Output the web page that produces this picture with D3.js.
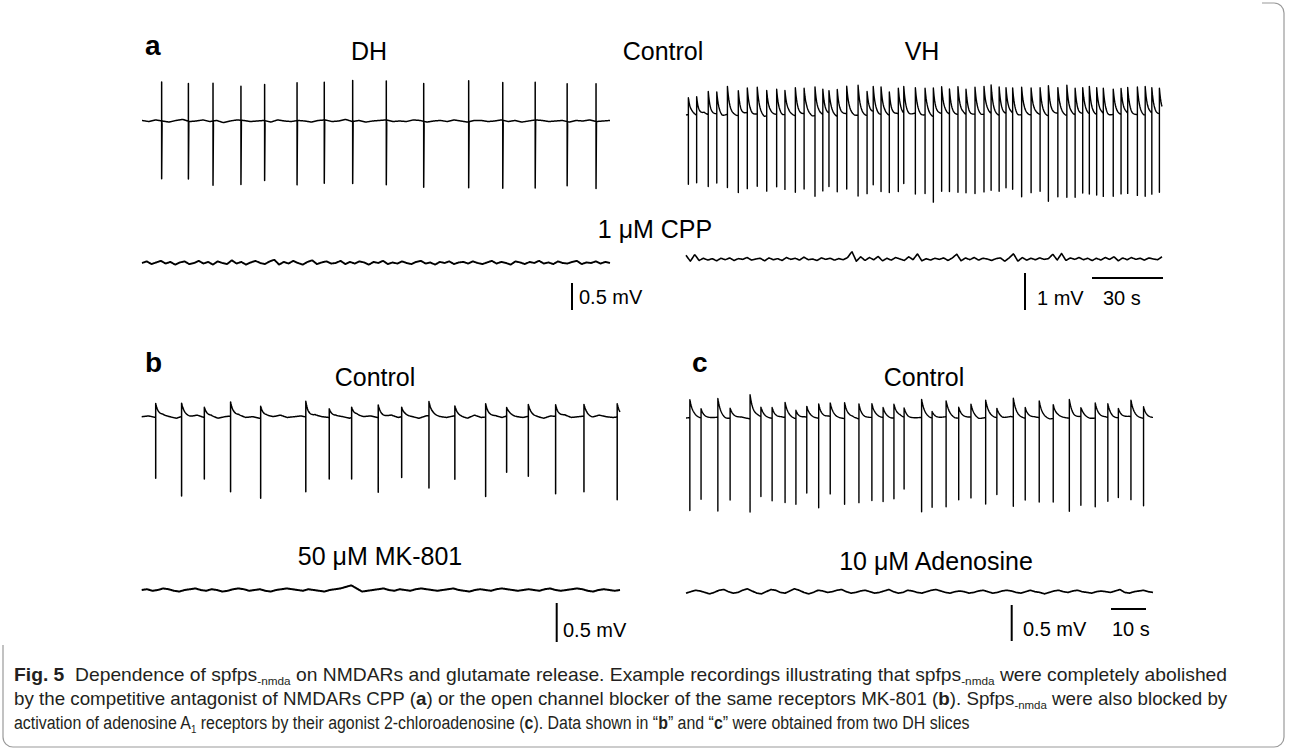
<!DOCTYPE html>
<html><head><meta charset="utf-8">
<script src="https://cdn.jsdelivr.net/npm/d3@7"></script>
<style>body{margin:0;background:#fff}</style>
</head><body>
<svg id="fig" width="1293" height="750"></svg>
<script>
// ---------------- DATA ----------------
// recording durations (s)
const durA_DH = 197.7, durA_VH = 201.1, durB = 136.7, durC = 133.4;

// Panel a, DH control: spike times (s), positive and negative peaks (mV)
const dhSpikeT   = [8.3,19.6,30.0,41.8,51.8,65.5,77.0,89.0,103.2,119.0,138.0,152.4,166.1,179.6,191.8];
const dhSpikeTop = [0.72,0.70,0.70,0.63,0.67,0.70,0.70,0.76,0.72,0.70,0.76,0.70,0.70,0.70,0.70];
const dhSpikeBot = [-1.07,-1.07,-1.19,-1.19,-1.11,-1.19,-1.17,-1.15,-1.20,-1.22,-1.22,-1.26,-1.26,-1.19,-1.24];

// Panel a, VH control
const vhSpikeT = [1.0,4.5,9.4,13.0,17.5,22.1,25.9,30.1,34.1,38.3,41.8,46.2,49.9,54.5,57.8,60.4,63.9,67.9,72.7,76.5,
  79.1,82.4,85.9,89.7,92.0,96.9,101.0,104.5,108.0,111.3,114.9,118.3,122.1,125.9,128.9,132.3,135.2,138.0,141.8,145.8,
  149.6,153.1,157.1,160.9,164.4,167.6,170.4,173.5,176.3,180.5,183.8,186.6,190.7,194.0,196.8,200.0];
const vhSpikeTop = [0.45,0.50,0.63,0.60,0.75,0.68,0.68,0.72,0.68,0.68,0.65,0.75,0.68,0.77,0.68,0.60,0.72,0.74,0.81,0.65,
  0.68,0.74,0.63,0.69,0.72,0.69,0.72,0.77,0.72,0.68,0.75,0.68,0.72,0.75,0.77,0.77,0.69,0.68,0.74,0.72,
  0.72,0.81,0.69,0.81,0.72,0.69,0.74,0.72,0.68,0.68,0.69,0.69,0.74,0.77,0.68,0.69];
const vhSpikeBot = [-1.89,-1.82,-1.94,-1.85,-1.98,-2.07,-2.03,-1.95,-2.03,-1.95,-2.01,-2.07,-2.03,-2.18,-2.05,-1.95,-2.03,-2.03,-2.18,-2.10,
  -1.94,-2.07,-2.07,-2.09,-1.85,-2.18,-2.12,-2.30,-2.09,-2.07,-2.09,-2.10,-2.14,-2.09,-2.05,-2.03,-1.98,-2.03,-2.21,-2.10,
  -2.07,-2.30,-2.25,-2.21,-2.21,-2.14,-2.14,-2.16,-2.21,-2.21,-2.14,-2.14,-2.18,-2.18,-2.16,-2.10];

// Panel b, control
const bSpikeT   = [4.0,11.4,17.9,25.4,34.0,46.9,53.6,60.0,67.6,74.3,82.1,89.5,98.3,104.3,110.5,118.3,126.4,135.9];
const bSpikeTop = [0.18,0.17,0.13,0.18,0.15,0.20,0.11,0.13,0.16,0.12,0.18,0.13,0.17,0.11,0.15,0.15,0.15,0.17];
const bSpikeBot = [-0.78,-1.02,-0.79,-0.97,-1.03,-0.96,-0.79,-0.79,-0.96,-0.78,-0.93,-0.81,-1.02,-0.72,-0.77,-0.99,-0.97,-1.06];

// Panel c, control
const cSpikeT   = [1.1,4.3,9.1,12.6,18.3,21.4,24.6,28.3,31.4,34.5,37.9,41.2,45.3,49.4,53.1,56.3,59.4,62.3,67.3,70.3,
  74.3,77.9,81.4,85.6,88.8,93.5,96.9,100.9,104.9,109.5,112.8,116.9,120.5,123.5,127.1,130.7];
const cSpikeTop = [0.25,0.13,0.26,0.14,0.33,0.13,0.15,0.21,0.12,0.15,0.20,0.19,0.22,0.21,0.19,0.14,0.19,0.13,0.25,0.09,
  0.22,0.15,0.18,0.24,0.13,0.26,0.15,0.23,0.19,0.26,0.12,0.21,0.19,0.13,0.23,0.16];
const cSpikeBot = [-1.29,-1.12,-1.30,-1.13,-1.30,-1.10,-1.14,-1.18,-1.18,-1.05,-1.24,-1.07,-1.19,-1.16,-1.15,-1.16,-1.12,-0.99,-1.31,-1.23,
  -1.25,-1.13,-1.12,-1.20,-1.06,-1.24,-1.13,-1.17,-1.16,-1.29,-1.23,-1.23,-1.16,-1.10,-1.15,-1.21];

// Baseline fluctuations (µV), evenly spaced over each recording
const dhCtrlNoise = [10,-10,20,0,-20,10,30,-10,0,20,-10,10,-30,0,20,10,-10,0,10,-20,20,0,-10,10,0,-20,10,20,-10,0,
  30,-10,10,-20,0,10,20,-10,0,-10,20,10,-20,0,10,-10,20,0,-20,10,10,-10,0,20,-10,10,-20,0,20,10,-10,0,10,-20,10,0,20,-10,0,10];
const dhCppNoise = [0,30,-20,10,40,-10,20,-30,10,30,-20,0,40,-10,20,-30,30,0,-20,50,-10,20,-30,10,40,0,-20,30,60,-30,
  20,-10,40,0,-30,20,50,-20,10,30,-10,0,40,-20,20,-10,30,10,-30,20,0,40,-20,10,-10,30,0,-20,20,40,
  -10,10,-30,20,0,30,-20,10,20,-10,30,0,-20,10,40,-10,20,0,-30,30,10,-20,20,0,40,-10,10,-20,30,0,-10,20,40,-20,10,0,30,-10,20,0];
const vhCtrlNoise = [0,40,-30,60,-20,20,-50,30,0,-40,50,-10,30,-60,20,10,-30,40,-20,0,50,-40,20,-10,30,-50,10,40,-20,0,
  -30,60,-10,20,-40,30,0,-20,50,-30,10,-60,20,40,-10,0,30,-40,20,-20,50,0,-30,10,40,-50,20,-10,30,0,
  -40,20,50,-20,10,-30,40,0,-10,30,-50,20,0,40,-20,10,-30,30,0,20];
const vhCppNoise = [100,-60,120,-40,20,-30,10,-50,20,-20,30,-40,10,-10,40,-30,0,20,-50,30,-20,10,-40,40,-10,20,-30,50,-20,0,
  -40,30,-10,20,-30,10,-20,40,200,-60,60,-40,40,-20,70,-50,20,-30,40,0,-40,60,-20,140,-50,10,-30,20,-10,30,
  -40,30,130,-50,30,-20,40,-30,20,0,-40,10,30,-60,30,140,-60,40,-30,20,-20,30,-10,10,130,-30,150,-40,30,-10,
  40,-20,20,-40,20,-30,40,-10,60,-50,30,-20,40,-10,20,-30,30,0,-20,60];
const bCtrlNoise = [0,10,-10,20,0,-20,10,0,20,-10,10,-20,0,10,20,-10,0,-20,10,0,20,-10,0,10,-10,20,0,-10,10,0,
  -20,20,0,10,-10,0,20,-10,10,0,-20,10,20,0,-10,10,0,-20,20,-10,0,10,-10,20,0,-10,10,0,-20,10,0,20,-10,0,10,-10,20,0,-10,0];
const mkNoise = [0,10,-10,0,20,10,-10,-20,0,10,20,0,-10,10,0,-20,-10,10,20,10,-10,0,10,-10,-20,0,10,20,10,0,
  -10,10,0,-10,-20,0,10,20,40,60,20,-20,-10,0,10,20,0,-10,10,0,-10,10,20,10,0,-10,0,10,20,0,
  -10,-20,0,10,0,-10,10,20,10,0,-10,0,10,0,-10,10,20,0,-10,0,10,20,10,-10,-20,0,10,0,-10,0];
const cCtrlNoise = [0,10,-10,0,10,-20,0,10,-10,20,0,-10,10,0,-20,10,0,-10,20,0,-10,10,-20,0,10,0,-10,20,-10,0,
  10,-10,0,20,-10,0,10,-20,10,0,-10,20,0,-10,10,0,-20,10,0,-10,20,-10,0,10,-10,0,20,0,-10,0];
const adenoNoise = [-20,0,20,10,-10,-30,-10,20,30,0,-20,-10,20,40,10,-20,-30,0,30,20,-10,-20,10,40,20,-10,-30,-10,20,10,
  -10,0,20,30,0,-20,-10,10,20,0,-20,-10,10,30,0,-20,-10,20,10,-10,-20,0,20,30,10,-10,-20,0,10,0,
  -20,-10,10,20,0,-20,-10,10,20,10,-10,-20,0,20,0,-10,-30,-10,10,20,0,-10,10,20,0,-10,-20,0,10,0,-10,10,30,-10,-20,0,10,20,0,-10];

// scale bars and labels
const scaleBars = [
  {mv:0.5, label:"0.5 mV"}, {mv:1, label:"1 mV", sec:30, secLabel:"30 s"},
  {mv:0.5, label:"0.5 mV"}, {mv:0.5, label:"0.5 mV", sec:10, secLabel:"10 s"}
];

// ---------------- DRAW ----------------
const svg = d3.select("#fig");
const FONT = "Liberation Sans, Arial, Helvetica, sans-serif";

function buildTrace(dur, noise, sp, kind, tau) {
  const n = noise.length;
  const base = t => {
    const f = Math.max(0, Math.min(1, t / dur)) * (n - 1);
    const i = Math.min(n - 2, Math.floor(f)), r = f - i;
    return (noise[i] * (1 - r) + noise[i + 1] * r) / 1000;
  };
  const ev = sp ? sp.t.map((t, i) => ({t, top: sp.top[i], bot: sp.bot[i]})) : [];
  const decay = t => {
    if (kind !== "decay") return 0;
    let s = 0;
    for (const e of ev) if (t > e.t) s += e.top * Math.exp(-(t - e.t) / tau);
    return s;
  };
  const pts = [];
  const step = dur / 900;
  let k = 0;
  for (let t = 0; t <= dur + 1e-9; t += step) {
    while (k < ev.length && ev[k].t <= t) {
      const e = ev[k], b = base(e.t);
      if (kind === "decay") {
        pts.push([e.t, b + decay(e.t - 1e-6)]);
        pts.push([e.t, b + e.bot]);
        pts.push([e.t + 1e-3, b + e.top + decay(e.t - 1e-6)]);
      } else {
        pts.push([e.t, b]);
        pts.push([e.t, b + e.top]);
        pts.push([e.t + 1e-3, b + e.bot]);
        pts.push([e.t + step * 0.8, b - 0.06]);
      }
      k++;
    }
    pts.push([t, base(t) + decay(t)]);
  }
  return pts;
}

function drawTrace(cfg) {
  const x = d3.scaleLinear().domain([0, cfg.dur]).range(cfg.xr);
  const y = d3.scaleLinear().domain([0, 1]).range([cfg.y0, cfg.y0 - cfg.ppmv]);
  const pts = buildTrace(cfg.dur, cfg.noise, cfg.sp, cfg.kind, cfg.tau);
  const line = d3.line().x(d => x(d[0])).y(d => y(d[1]));
  svg.append("path").attr("d", line(pts)).attr("fill", "none")
    .attr("stroke", "#000").attr("stroke-width", cfg.sw || 1.5).attr("stroke-linejoin", "round");
  return {x, y};
}

const A_DH = {dur: durA_DH, xr: [142, 610], ppmv: 54};
const A_VH = {dur: durA_VH, xr: [686, 1162], ppmv: 37};
const B_ = {dur: durB, xr: [141.7, 620], ppmv: 78};
const C_ = {dur: durC, xr: [686, 1153], ppmv: 72};

const sDH = drawTrace({...A_DH, y0: 121, noise: dhCtrlNoise, sp: {t: dhSpikeT, top: dhSpikeTop, bot: dhSpikeBot}, kind: "biphasic", sw: 1.5});
drawTrace({...A_DH, y0: 263, noise: dhCppNoise, sp: null, kind: "none", sw: 1.9});
const sVH = drawTrace({...A_VH, y0: 115, noise: vhCtrlNoise, sp: {t: vhSpikeT, top: vhSpikeTop, bot: vhSpikeBot}, kind: "decay", tau: 0.9, sw: 1.4});
drawTrace({...A_VH, y0: 259, noise: vhCppNoise, sp: null, kind: "none", sw: 1.6});
const sB = drawTrace({...B_, y0: 416.7, noise: bCtrlNoise, sp: {t: bSpikeT, top: bSpikeTop, bot: bSpikeBot}, kind: "decay", tau: 0.8, sw: 1.5});
drawTrace({...B_, y0: 590, noise: mkNoise, sp: null, kind: "none", sw: 2});
const sC = drawTrace({...C_, y0: 418, noise: cCtrlNoise, sp: {t: cSpikeT, top: cSpikeTop, bot: cSpikeBot}, kind: "decay", tau: 0.9, sw: 1.4});
drawTrace({...C_, y0: 591.7, noise: adenoNoise, sp: null, kind: "none", sw: 1.7});

// scale bars
function vBar(sc, mv, xPos, yBottom, label, tx, ty) {
  const h = sc.y(0) - sc.y(mv);
  svg.append("line").attr("x1", xPos).attr("x2", xPos).attr("y1", yBottom - h).attr("y2", yBottom)
    .attr("stroke", "#000").attr("stroke-width", 2);
  svg.append("text").attr("x", tx).attr("y", ty).text(label)
    .attr("font-family", FONT).attr("font-size", 20).attr("fill", "#000");
}
function hBar(sc, sec, x1, yPos, label, tx, ty) {
  const w = sc.x(sec) - sc.x(0);
  svg.append("line").attr("x1", x1).attr("x2", x1 + w).attr("y1", yPos).attr("y2", yPos)
    .attr("stroke", "#000").attr("stroke-width", 2);
  svg.append("text").attr("x", tx).attr("y", ty).text(label)
    .attr("font-family", FONT).attr("font-size", 20).attr("fill", "#000");
}
vBar(sDH, scaleBars[0].mv, 572, 310, scaleBars[0].label, 579, 304);
vBar(sVH, scaleBars[1].mv, 1025, 310, scaleBars[1].label, 1037, 305);
hBar(sVH, scaleBars[1].sec, 1092, 278, scaleBars[1].secLabel, 1103, 305);
vBar(sB, scaleBars[2].mv, 556.7, 642, scaleBars[2].label, 563, 637);
vBar(sC, scaleBars[3].mv, 1011.7, 641, scaleBars[3].label, 1023, 636);
hBar(sC, scaleBars[3].sec, 1111, 609, scaleBars[3].secLabel, 1112, 636);

// titles
const titles = [
  {t: "DH", x: 369, y: 60}, {t: "Control", x: 663, y: 60}, {t: "VH", x: 922, y: 60},
  {t: "1 \u03BCM CPP", x: 655, y: 238},
  {t: "Control", x: 375, y: 386}, {t: "Control", x: 924, y: 386},
  {t: "50 \u03BCM MK-801", x: 380, y: 565}, {t: "10 \u03BCM Adenosine", x: 936, y: 570}
];
titles.forEach(d => svg.append("text").attr("x", d.x).attr("y", d.y).attr("text-anchor", "middle")
  .attr("font-family", FONT).attr("font-size", 25).attr("fill", "#000").text(d.t));

const letters = [{t: "a", x: 145, y: 55}, {t: "b", x: 145, y: 372}, {t: "c", x: 692, y: 372}];
letters.forEach(d => svg.append("text").attr("x", d.x).attr("y", d.y)
  .attr("font-family", FONT).attr("font-size", 28).attr("font-weight", "bold").attr("fill", "#000").text(d.t));

// frame
svg.append("path")
  .attr("d", "M1262,3 H1274 A10,10 0 0 1 1284,13 V737 A10,10 0 0 1 1274,747 H13 A10,10 0 0 1 3,737 V645")
  .attr("fill", "none").attr("stroke", "#9a9a9a").attr("stroke-width", 1.2);

// caption
const capLines = [
  {y: 681, w: 1214, parts: [["Fig. 5", "b"], ["  Dependence of spfps"], ["-nmda", "s"], [" on NMDARs and glutamate release. Example recordings illustrating that spfps"], ["-nmda", "s"], [" were completely abolished"]]},
  {y: 705, w: 1214, parts: [["by the competitive antagonist of NMDARs CPP ("], ["a", "b"], [") or the open channel blocker of the same receptors MK-801 ("], ["b", "b"], ["). Spfps"], ["-nmda", "s"], [" were also blocked by"]]},
  {y: 729, w: 956, parts: [["activation of adenosine A"], ["1", "s"], [" receptors by their agonist 2-chloroadenosine ("], ["c", "b"], ["). Data shown in \u201C"], ["b", "b"], ["\u201D and \u201C"], ["c", "b"], ["\u201D were obtained from two DH slices"]]}
];
capLines.forEach(L => {
  const g = svg.append("g").attr("transform", `translate(14,${L.y})`);
  const txt = g.append("text").attr("x", 0).attr("y", 0)
    .attr("font-family", "Liberation Sans Narrow, Arial Narrow, Liberation Sans, sans-serif")
    .attr("font-size", 18).attr("fill", "#231f20").style("white-space", "pre");
  let shifted = false;
  L.parts.forEach(p => {
    const ts = txt.append("tspan").text(p[0]);
    if (p[1] === "b") ts.attr("font-weight", "bold");
    if (p[1] === "s") { ts.attr("font-size", 11).attr("dy", 4); shifted = true; }
    else if (shifted) { ts.attr("dy", -4); shifted = false; }
  });
  const bw = txt.node().getBBox().width;
  g.attr("transform", `translate(14,${L.y}) scale(${L.w / bw},1)`);
});
</script>
</body></html>
